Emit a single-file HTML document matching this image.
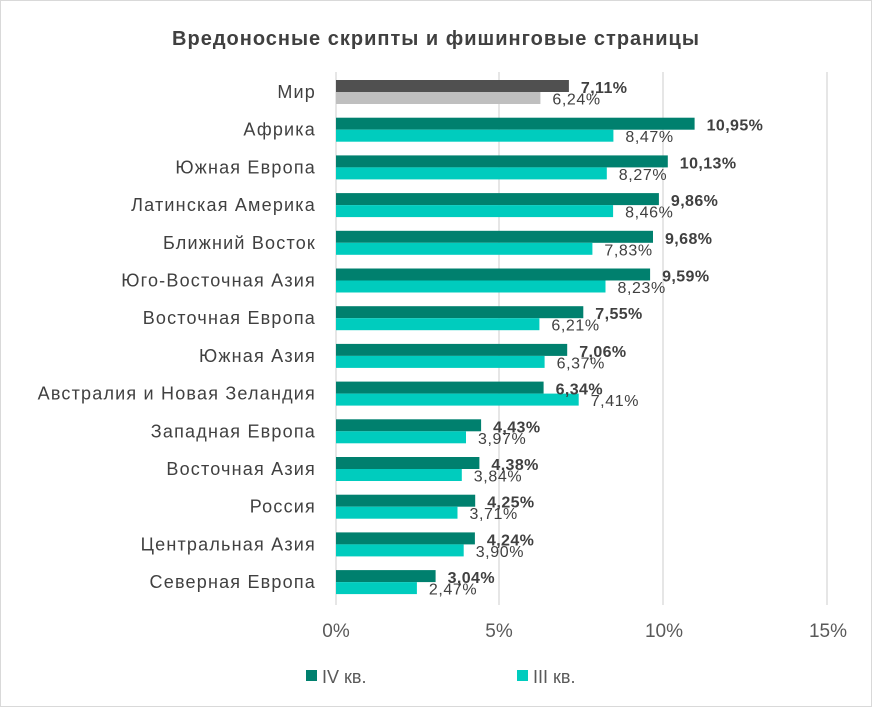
<!DOCTYPE html>
<html><head><meta charset="utf-8"><style>
body{margin:0;background:#fff;}
svg{display:block;font-family:"Liberation Sans","DejaVu Sans",sans-serif;}
</style></head><body>
<svg width="872" height="707" xmlns="http://www.w3.org/2000/svg">
<rect x="0.5" y="0.5" width="871" height="706" fill="#fff" stroke="#d9d9d9"/>
<text x="436" y="45" text-anchor="middle" font-size="20" font-weight="bold" letter-spacing="1" fill="#404040">Вредоносные скрипты и фишинговые страницы</text>
<g stroke="#d9d9d9" stroke-width="1.3">
<line x1="336" y1="72" x2="336" y2="605"/><line x1="499" y1="72" x2="499" y2="605"/>
<line x1="663" y1="72" x2="663" y2="605"/><line x1="827" y1="72" x2="827" y2="605"/>
</g>
<g>
<rect x="336" y="80" width="232.9" height="12" fill="#505050"/><rect x="336" y="92" width="204.4" height="12" fill="#bfbfbf"/>
<rect x="336" y="117.7" width="358.6" height="12" fill="#00806e"/><rect x="336" y="129.7" width="277.4" height="12" fill="#00ccbe"/>
<rect x="336" y="155.4" width="331.8" height="12" fill="#00806e"/><rect x="336" y="167.4" width="270.8" height="12" fill="#00ccbe"/>
<rect x="336" y="193.1" width="322.9" height="12" fill="#00806e"/><rect x="336" y="205.1" width="277.1" height="12" fill="#00ccbe"/>
<rect x="336" y="230.8" width="317.0" height="12" fill="#00806e"/><rect x="336" y="242.8" width="256.4" height="12" fill="#00ccbe"/>
<rect x="336" y="268.5" width="314.1" height="12" fill="#00806e"/><rect x="336" y="280.5" width="269.5" height="12" fill="#00ccbe"/>
<rect x="336" y="306.2" width="247.3" height="12" fill="#00806e"/><rect x="336" y="318.2" width="203.4" height="12" fill="#00ccbe"/>
<rect x="336" y="343.9" width="231.2" height="12" fill="#00806e"/><rect x="336" y="355.9" width="208.6" height="12" fill="#00ccbe"/>
<rect x="336" y="381.6" width="207.6" height="12" fill="#00806e"/><rect x="336" y="393.6" width="242.7" height="12" fill="#00ccbe"/>
<rect x="336" y="419.3" width="145.1" height="12" fill="#00806e"/><rect x="336" y="431.3" width="130.0" height="12" fill="#00ccbe"/>
<rect x="336" y="457.0" width="143.4" height="12" fill="#00806e"/><rect x="336" y="469.0" width="125.8" height="12" fill="#00ccbe"/>
<rect x="336" y="494.7" width="139.2" height="12" fill="#00806e"/><rect x="336" y="506.7" width="121.5" height="12" fill="#00ccbe"/>
<rect x="336" y="532.4" width="138.9" height="12" fill="#00806e"/><rect x="336" y="544.4" width="127.7" height="12" fill="#00ccbe"/>
<rect x="336" y="570.1" width="99.6" height="12" fill="#00806e"/><rect x="336" y="582.1" width="80.9" height="12" fill="#00ccbe"/>
</g>
<g font-size="18" letter-spacing="1.2" fill="#404040" text-anchor="end">
<text x="316" y="98">Мир</text>
<text x="316" y="135.7">Африка</text>
<text x="316" y="173.4">Южная Европа</text>
<text x="316" y="211.1">Латинская Америка</text>
<text x="316" y="248.8">Ближний Восток</text>
<text x="316" y="286.5">Юго-Восточная Азия</text>
<text x="316" y="324.2">Восточная Европа</text>
<text x="316" y="361.9">Южная Азия</text>
<text x="316" y="399.6">Австралия и Новая Зеландия</text>
<text x="316" y="437.3">Западная Европа</text>
<text x="316" y="475">Восточная Азия</text>
<text x="316" y="512.7">Россия</text>
<text x="316" y="550.4">Центральная Азия</text>
<text x="316" y="588.1">Северная Европа</text>
</g>
<g font-size="16" font-weight="bold" letter-spacing="0.4" fill="#404040">
<text x="580.9" y="93">7,11%</text>
<text x="706.6" y="130.7">10,95%</text>
<text x="679.8" y="168.4">10,13%</text>
<text x="670.9" y="206.1">9,86%</text>
<text x="665" y="243.8">9,68%</text>
<text x="662.1" y="281.5">9,59%</text>
<text x="595.3" y="319.2">7,55%</text>
<text x="579.2" y="356.9">7,06%</text>
<text x="555.6" y="394.6">6,34%</text>
<text x="493.1" y="432.3">4,43%</text>
<text x="491.4" y="470">4,38%</text>
<text x="487.2" y="507.7">4,25%</text>
<text x="486.9" y="545.4">4,24%</text>
<text x="447.6" y="583.1">3,04%</text>
</g>
<g font-size="16" letter-spacing="0.6" fill="#404040">
<text x="552.4" y="104.5">6,24%</text>
<text x="625.4" y="142.2">8,47%</text>
<text x="618.8" y="179.9">8,27%</text>
<text x="625.1" y="217.6">8,46%</text>
<text x="604.4" y="255.3">7,83%</text>
<text x="617.5" y="293">8,23%</text>
<text x="551.4" y="330.7">6,21%</text>
<text x="556.6" y="368.4">6,37%</text>
<text x="590.7" y="406.1">7,41%</text>
<text x="478" y="443.8">3,97%</text>
<text x="473.8" y="481.5">3,84%</text>
<text x="469.5" y="519.2">3,71%</text>
<text x="475.7" y="556.9">3,90%</text>
<text x="428.9" y="594.6">2,47%</text>
</g>
<g font-size="19" fill="#595959" text-anchor="middle">
<text x="336" y="637">0%</text><text x="499" y="637">5%</text><text x="664" y="637">10%</text><text x="828" y="637">15%</text>
</g>
<rect x="306" y="670" width="11" height="11" fill="#00806e"/>
<text x="322" y="683" font-size="18" fill="#595959">IV кв.</text>
<rect x="517" y="670" width="11" height="11" fill="#00ccbe"/>
<text x="533" y="683" font-size="18" fill="#595959">III кв.</text>
</svg>
</body></html>
